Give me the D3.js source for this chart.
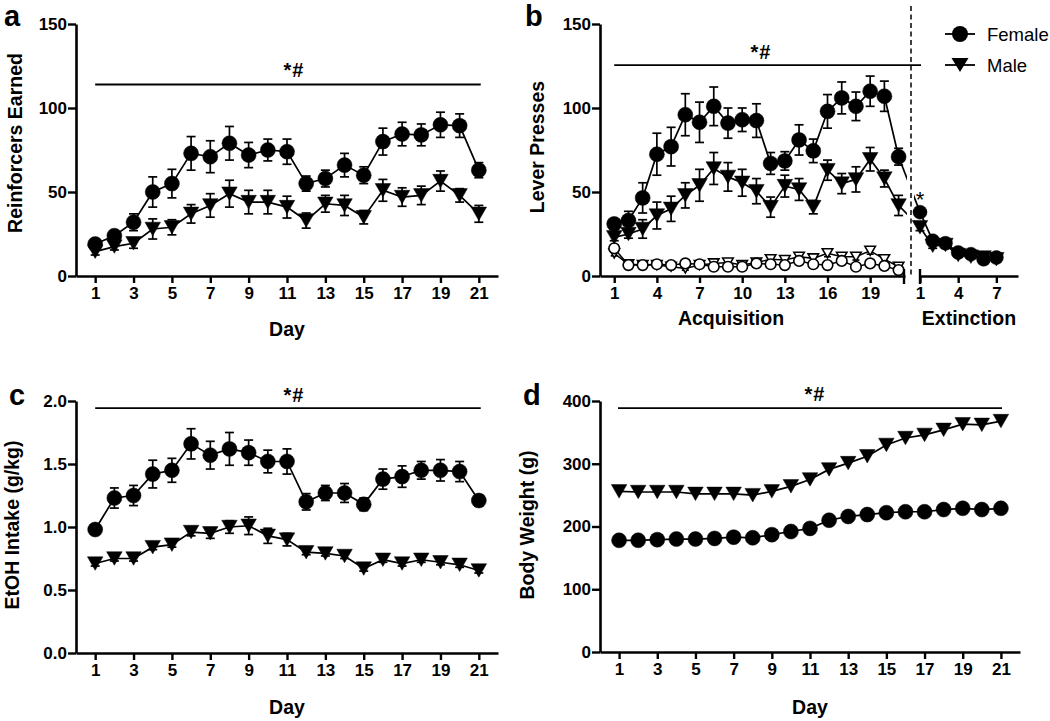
<!DOCTYPE html>
<html><head><meta charset="utf-8">
<script src="https://cdn.jsdelivr.net/npm/d3@7"></script>
<style>
body{margin:0;background:#fff}
svg{display:block}
text{font-family:Arial,"Liberation Sans",Helvetica,sans-serif;fill:#000}
</style>
</head><body>
<svg id="chart" width="1050" height="721"></svg>
<script>
// ---------- DATA ----------
const DAYS = [1,2,3,4,5,6,7,8,9,10,11,12,13,14,15,16,17,18,19,20,21];
const EXT_DAYS = [1,2,3,4,5,6,7];
const DAY_TICKS = [1,3,5,7,9,11,13,15,17,19,21];
const ACQ_TICKS = [1,4,7,10,13,16,19];
const EXT_TICKS = [1,4,7];

// a: Reinforcers earned
const reinfFemale    = [19,24,32,50,55,73,71,79,72,75,74,55,58,66,60,80,84.5,84,90,89.5,63];
const reinfFemaleSem = [2,3,5,9,8.5,10,9.5,10,7.5,6.5,7.5,4.5,5,7,5,8,7,6.5,7.5,7,4.5];
const reinfMale      = [14.5,17.5,19.5,28,29,37,42,49,44,44,41,33,43,42,35,51,47,48,56.5,48,37];
const reinfMaleSem   = [2,2,3,6,4.5,5.5,7,8,7,7,6.5,4.5,5,6,4,6.5,5.5,5.5,6,4,5];
const reinfTicks = [0,50,100,150];

// b: Lever presses (active = filled, inactive = open)
const activeFemale    = [31,33,46.5,72.5,77,96,91.5,101,91,93,92.5,67,68.5,81,74.5,98,106,101,110,107,71];
const activeFemaleSem = [2,5.5,9,12.5,11.5,12.5,12,11.5,9,7,10,6.5,5.5,9,7,10,9.5,8.5,9,9,5];
const activeMale      = [23,25,28,36,40,48,54,64,59,55.5,50.5,41,53.5,51.5,41,63,55,57.5,69.5,58,42];
const activeMaleSem   = [2,2.5,5.5,8,7.5,7.5,9.5,9.5,8.5,8,7.5,6,6.5,6.5,4,6,6,7.5,7,5,6];
const inactiveFemale    = [16.5,6.5,6.5,7,6.5,7.5,7,5.5,5.5,5.5,7.5,7,6.5,9,7,6.5,9,5.5,7.5,6,3.5];
const inactiveFemaleSem = [2,1,1,1,1,1,1,1,1,1,1,1,1,1.5,1,1,1.5,1,1.5,1,1];
const inactiveMale      = [13.5,7,6.5,6.5,5.5,4.5,6.5,7.5,8,6.5,8,10,9.5,11.5,10.5,13.5,11.5,11.5,15,10,5.5];
const inactiveMaleSem   = [1.5,1,1,1,1,1,1,1.5,1.5,1,1.5,1.5,1.5,2,1.5,2,2,2,2,1.5,1];
const extFemale    = [38,21,19.5,14,13,10,11];
const extFemaleSem = [2,1.5,1.5,1,1,1,1];
const extMale      = [29,18,18.5,12.5,11.5,11,10];
const extMaleSem   = [2,1.5,1.5,1,1,1,1];
const leverTicks = [0,50,100,150];

// c: EtOH intake
const etohFemale    = [0.98,1.23,1.25,1.42,1.45,1.66,1.57,1.62,1.59,1.52,1.52,1.20,1.27,1.27,1.18,1.38,1.40,1.45,1.45,1.44,1.21];
const etohFemaleSem = [0.02,0.08,0.08,0.11,0.095,0.12,0.11,0.13,0.10,0.09,0.10,0.065,0.06,0.075,0.05,0.08,0.085,0.07,0.085,0.08,0.045];
const etohMale      = [0.71,0.75,0.75,0.84,0.86,0.96,0.95,1.00,1.01,0.93,0.90,0.80,0.79,0.77,0.67,0.74,0.71,0.74,0.72,0.70,0.655];
const etohMaleSem   = [0.02,0.02,0.02,0.02,0.02,0.03,0.04,0.05,0.07,0.06,0.05,0.02,0.02,0.02,0.02,0.02,0.02,0.02,0.02,0.02,0.02];
const etohTicks = [0,0.5,1.0,1.5,2.0];

// d: Body weight
const weightFemale = [178,178,179,180,180,181,183,182,187,192,197,210,216,219,222,223.5,223.5,227,229,227,229];
const weightMale   = [256,255,255,255,252,252,252,250,256,264,275,291,301,312,330,341,346,354,363,362,368];
const weightTicks = [0,100,200,300,400];

const SIG = "*#";
const LEGEND = ["Female","Male"];

// ---------- DRAWING ----------
const svg = d3.select("#chart");
const FONT = 'Arial,"Liberation Sans",Helvetica,sans-serif';

function styleAxis(g){
  g.attr("font-family", FONT).attr("font-size", 17).attr("font-weight", "bold");
  g.select(".domain").attr("stroke", "#000").attr("stroke-width", 2.6);
  g.selectAll(".tick line").attr("stroke", "#000").attr("stroke-width", 2.4);
  g.selectAll(".tick text").attr("fill", "#000").style("font-size", "17px");
}
function yAxis(x0, y, ticks, fmt){
  const g = svg.append("g").attr("transform", `translate(${x0},0)`)
    .call(d3.axisLeft(y).tickValues(ticks).tickFormat(fmt).tickSize(8).tickSizeOuter(0).tickPadding(1));
  styleAxis(g);
}
function xAxis(y0, x, ticks){
  const g = svg.append("g").attr("transform", `translate(0,${y0})`)
    .call(d3.axisBottom(x).tickValues(ticks).tickFormat(d3.format("d")).tickSize(7).tickSizeOuter(0).tickPadding(4));
  styleAxis(g);
  return g;
}
function triPath(w, h){ return `M${-w/2},${-h/2}L${w/2},${-h/2}L0,${h/2}Z`; }

function series(parent, xs, vals, sems, x, y, shape, filled, opts={}){
  const g = parent.append("g");
  const pts = xs.map((d,i)=>({x:x(d), y:y(vals[i]), e: sems ? sems[i] : 0, v: vals[i]}));
  g.append("path").attr("d", d3.line().x(p=>p.x).y(p=>p.y)(pts))
    .attr("fill","none").attr("stroke","#000").attr("stroke-width", opts.lw || 1.7);
  if (sems){
    const cap = opts.cap || 4.5;
    pts.forEach(p=>{
      const y1 = y(p.v + p.e), y2 = y(p.v - p.e);
      g.append("line").attr("x1",p.x).attr("x2",p.x).attr("y1",y1).attr("y2",y2).attr("stroke","#000").attr("stroke-width",1.7);
      g.append("line").attr("x1",p.x-cap).attr("x2",p.x+cap).attr("y1",y1).attr("y2",y1).attr("stroke","#000").attr("stroke-width",1.7);
      g.append("line").attr("x1",p.x-cap).attr("x2",p.x+cap).attr("y1",y2).attr("y2",y2).attr("stroke","#000").attr("stroke-width",1.7);
    });
  }
  pts.forEach(p=>{
    let m;
    if (shape === "circle"){
      m = g.append("circle").attr("cx",p.x).attr("cy",p.y).attr("r", opts.r || (filled ? 7.5 : 5.3));
    } else {
      m = g.append("path").attr("transform",`translate(${p.x},${p.y})`)
        .attr("d", filled ? triPath(opts.tw || 15.5, opts.th || 13.5) : triPath(10.5, 9));
    }
    if (filled) m.attr("fill","#000").attr("stroke","#000").attr("stroke-width",0.5);
    else m.attr("fill","#fff").attr("stroke","#000").attr("stroke-width",1.6);
  });
  return pts;
}
function sigBar(x1, x2, yv, tx, ty){
  svg.append("line").attr("x1",x1).attr("x2",x2).attr("y1",yv).attr("y2",yv).attr("stroke","#000").attr("stroke-width",1.8);
  svg.append("text").attr("x",tx).attr("y",ty).attr("text-anchor","middle")
    .attr("font-size",20).attr("font-weight","bold").attr("letter-spacing",1).text(SIG);
}
function label(txt, x, y, size, weight, anchor, rot){
  const t = svg.append("text").attr("text-anchor", anchor || "middle")
    .attr("font-size", size).attr("font-weight", weight || "bold").text(txt);
  if (rot) t.attr("transform", `translate(${x},${y}) rotate(-90)`);
  else t.attr("x", x).attr("y", y);
  return t;
}

// ----- Panel a -----
{
  const x = d3.scaleLinear().domain([0,22]).range([76,498]);
  const y = d3.scaleLinear().domain([0,150]).range([276,24]);
  series(svg, DAYS, reinfMale, reinfMaleSem, x, y, "tri", true);
  series(svg, DAYS, reinfFemale, reinfFemaleSem, x, y, "circle", true);
  yAxis(76, y, reinfTicks, d3.format("d"));
  xAxis(276, x, DAY_TICKS);
  sigBar(x(1), x(21.1), y(114), 294, 77);
  label("Day", x(11), 336, 19.5);
  label("Reinforcers Earned", 22, 143, 19.5, "bold", "middle", true);
  label("a", 4, 26, 29, "bold", "start");
}

// ----- Panel b -----
{
  const xA = d3.scaleLinear().domain([0,21.45]).range([600,905]);
  const xE = d3.scaleLinear().domain([1,8.7]).range([920,1018]);
  const y = d3.scaleLinear().domain([0,150]).range([276,24]);

  // clip that hides the axis-break gap
  const defs = svg.append("defs");
  const cp = defs.append("clipPath").attr("id","breakClip");
  cp.append("rect").attr("x",0).attr("y",0).attr("width",907).attr("height",721);
  cp.append("rect").attr("x",914).attr("y",0).attr("width",200).attr("height",721);

  // connecting segments across the break
  const conn = svg.append("g").attr("clip-path","url(#breakClip)");
  [[activeFemale, extFemale],[activeMale, extMale]].forEach(([a,e])=>{
    conn.append("line").attr("x1",xA(21)).attr("y1",y(a[20])).attr("x2",xE(1)).attr("y2",y(e[0]))
      .attr("stroke","#000").attr("stroke-width",1.7);
  });

  series(svg, DAYS, inactiveMale, inactiveMaleSem, xA, y, "tri", false, {cap:3.5, lw:1.5});
  series(svg, DAYS, inactiveFemale, inactiveFemaleSem, xA, y, "circle", false, {cap:3.5, lw:1.5});
  series(svg, DAYS, activeMale, activeMaleSem, xA, y, "tri", true);
  series(svg, DAYS, activeFemale, activeFemaleSem, xA, y, "circle", true);
  series(svg, EXT_DAYS, extMale, extMaleSem, xE, y, "tri", true, {r:7});
  series(svg, EXT_DAYS, extFemale, extFemaleSem, xE, y, "circle", true, {r:7});

  yAxis(600, y, leverTicks, d3.format("d"));
  xAxis(276, xA, ACQ_TICKS);
  xAxis(276, xE, EXT_TICKS);
  // break ticks
  [xA(21.45)-1, xE(1)].forEach(px=>{
    svg.append("line").attr("x1",px).attr("x2",px).attr("y1",269).attr("y2",284).attr("stroke","#000").attr("stroke-width",2.4);
  });
  // dashed phase divider
  svg.append("line").attr("x1",911).attr("x2",911).attr("y1",6).attr("y2",278)
    .attr("stroke","#000").attr("stroke-width",1.5).attr("stroke-dasharray","5,3.5");

  sigBar(xA(1), 921, y(125.5), 761, 59);
  svg.append("text").attr("x", xE(1)).attr("y", y(extFemale[0]) - 5).attr("text-anchor","middle")
    .attr("font-size",22).text("*");

  label("Acquisition", 731, 325, 19.5);
  label("Extinction", 969, 325, 19.5);
  label("Lever Presses", 544, 147, 19.5, "bold", "middle", true);
  label("b", 525, 26, 29, "bold", "start");

  // legend
  const lg = svg.append("g");
  [34, 65].forEach((ly,i)=>{
    lg.append("line").attr("x1",945).attr("x2",975).attr("y1",ly).attr("y2",ly).attr("stroke","#000").attr("stroke-width",1.8);
    if (i===0) lg.append("circle").attr("cx",960).attr("cy",ly).attr("r",8).attr("fill","#000");
    else lg.append("path").attr("transform",`translate(960,${ly})`).attr("d",triPath(17,14)).attr("fill","#000");
    lg.append("text").attr("x",987).attr("y",ly+7).attr("font-size",18.5).attr("font-weight","normal").text(LEGEND[i]);
  });
}

// ----- Panel c -----
{
  const x = d3.scaleLinear().domain([0,22]).range([76,498]);
  const y = d3.scaleLinear().domain([0,2]).range([653,401]);
  series(svg, DAYS, etohMale, etohMaleSem, x, y, "tri", true);
  series(svg, DAYS, etohFemale, etohFemaleSem, x, y, "circle", true);
  yAxis(76, y, etohTicks, d3.format(".1f"));
  xAxis(653, x, DAY_TICKS);
  sigBar(x(1), x(21.1), y(1.944), 294, 402);
  label("Day", x(11), 714, 19.5);
  label("EtOH Intake (g/kg)", 19, 525, 19.5, "bold", "middle", true);
  label("c", 9, 405, 29, "bold", "start");
}

// ----- Panel d -----
{
  const x = d3.scaleLinear().domain([0,22]).range([600,1020]);
  const y = d3.scaleLinear().domain([0,400]).range([652,401]);
  series(svg, DAYS, weightMale, null, x, y, "tri", true);
  series(svg, DAYS, weightFemale, null, x, y, "circle", true);
  yAxis(600, y, weightTicks, d3.format("d"));
  xAxis(652, x, DAY_TICKS);
  sigBar(618, 1002, y(388.5), 815, 401);
  label("Day", 810, 714, 19.5);
  label("Body Weight (g)", 534, 525, 19.5, "bold", "middle", true);
  label("d", 523, 405, 29, "bold", "start");
}
</script>
</body></html>
